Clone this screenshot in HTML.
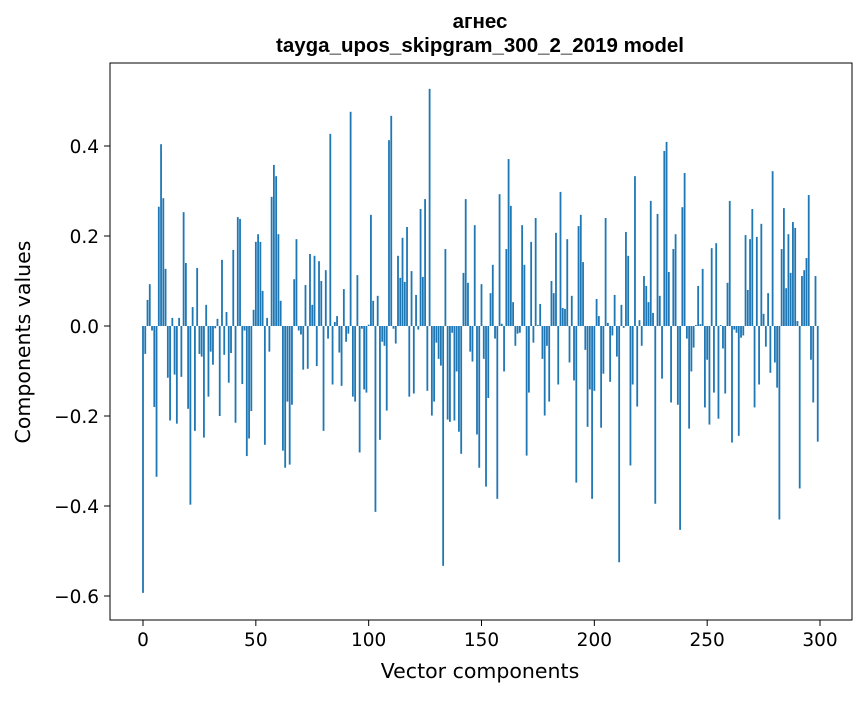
<!DOCTYPE html>
<html><head><meta charset="utf-8"><style>
body{margin:0;background:#fff}
svg text{font-family:"DejaVu Sans","Liberation Sans",sans-serif;fill:#000}
svg text.title{font-family:"Liberation Sans","DejaVu Sans",sans-serif}
</style></head><body>
<svg id="chart" width="867" height="696" xmlns="http://www.w3.org/2000/svg">
<text class="title" x="480" y="28" text-anchor="middle" font-size="20.5" font-weight="bold">агнес</text>
<text class="title" x="480" y="52" text-anchor="middle" font-size="20.5" font-weight="bold">tayga_upos_skipgram_300_2_2019 model</text>
<g id="bars"></g>
<g id="axes"></g>
<rect x="110" y="63" width="742" height="557" fill="none" stroke="#000" stroke-width="1"/>
<text x="480" y="678" text-anchor="middle" font-size="20.5">Vector components</text>
<text transform="translate(30,342) rotate(-90)" text-anchor="middle" font-size="20.5">Components values</text>
</svg>
<script>
const values = [
-0.593,-0.062,0.058,0.093,-0.01,-0.18,-0.335,0.265,0.404,0.284,
0.127,-0.115,-0.21,0.018,-0.108,-0.217,0.018,-0.113,0.253,0.14,
-0.184,-0.397,0.042,-0.233,0.129,-0.062,-0.068,-0.248,0.047,-0.157,
-0.057,-0.086,-0.005,0.016,-0.2,0.147,-0.064,0.031,-0.126,-0.06,
0.169,-0.215,0.242,0.238,-0.129,-0.01,-0.289,-0.25,-0.189,0.036,
0.187,0.204,0.187,0.078,-0.264,0.018,-0.057,0.287,0.358,0.333,
0.204,0.056,-0.277,-0.315,-0.168,-0.308,-0.175,0.104,0.193,-0.01,
-0.019,-0.097,0.091,-0.095,0.16,0.047,
0.156,-0.089,0.144,0.1,-0.233,0.124,-0.028,0.427,-0.13,0.009,
0.022,-0.059,-0.133,0.082,-0.035,-0.017,0.476,-0.157,-0.168,0.113,
-0.281,-0.006,-0.141,-0.148,0.003,0.247,0.056,-0.413,0.067,-0.253,
-0.035,-0.044,-0.188,0.413,0.467,-0.006,-0.039,0.156,0.107,0.196,
0.098,0.22,-0.157,0.122,-0.15,0.069,-0.008,0.26,0.109,0.282,
-0.144,0.527,-0.199,-0.168,-0.037,-0.073,-0.088,-0.533,0.171,-0.208,
-0.213,-0.015,-0.21,-0.101,-0.235,-0.284,0.118,0.282,0.096,-0.057,
-0.079,0.224,-0.241,-0.315,0.093,
-0.073,-0.357,-0.16,0.073,0.136,-0.028,-0.384,0.293,0.005,-0.101,
0.171,0.371,0.267,0.053,-0.044,-0.017,-0.015,0.224,0.136,-0.288,
-0.148,0.187,-0.037,0.24,0.002,0.049,-0.073,-0.199,-0.044,-0.168,
0.1,0.073,0.207,-0.13,0.298,0.04,0.038,0.193,-0.081,0.067,
-0.121,-0.348,0.222,0.247,0.142,-0.053,-0.224,-0.141,-0.384,-0.144,
0.06,0.022,-0.226,-0.106,0.24,0.007,-0.124,-0.021,0.069,-0.068,
-0.525,0.047,-0.004,0.209,0.156,-0.31,-0.13,0.333,-0.179,0.013,
-0.044,0.111,0.089,0.053,0.278,0.029,
-0.395,0.249,0.067,-0.117,0.389,0.409,0.12,-0.17,0.171,0.204,
-0.175,-0.453,0.264,0.34,-0.028,-0.228,-0.101,-0.048,0.002,0.089,
0.004,0.127,-0.181,-0.075,-0.219,0.173,-0.148,0.184,-0.206,0.002,
-0.05,-0.15,0.096,0.278,-0.259,-0.008,-0.015,-0.244,-0.026,-0.021,
0.202,0.08,0.193,0.26,-0.181,0.198,-0.13,0.227,0.027,-0.046,
0.073,-0.104,0.344,-0.081,-0.137,-0.43,0.171,0.262,0.084,0.204,
0.118,0.231,0.218,0.011,-0.361,0.111,0.124,0.151,0.291,-0.075,
-0.17,0.111,-0.257
];
const xTicks = [0,50,100,150,200,250,300];
const yTicks = [0.4,0.2,0.0,-0.2,-0.4,-0.6];
const yTickLabels = ["0.4","0.2","0.0","\u22120.2","\u22120.4","\u22120.6"];

const NS = "http://www.w3.org/2000/svg";
function xScale(v){ return 143 + v*2.2567; }
function yScale(v){ return 326 - v*450; }

const barsG = document.getElementById('bars');
values.forEach(function(v,i){
  const r = document.createElementNS(NS,'rect');
  const y0 = yScale(0), y1 = yScale(v);
  r.setAttribute('x', xScale(i) - 0.9);
  r.setAttribute('width', 1.8);
  r.setAttribute('y', Math.min(y0,y1));
  r.setAttribute('height', Math.abs(y1-y0));
  r.setAttribute('fill', '#1f77b4');
  
  
  barsG.appendChild(r);
});

const axesG = document.getElementById('axes');
xTicks.forEach(function(t){
  const x = xScale(t);
  const l = document.createElementNS(NS,'line');
  l.setAttribute('x1',x); l.setAttribute('x2',x);
  l.setAttribute('y1',620); l.setAttribute('y2',626);
  l.setAttribute('stroke','#000');
  
  
  axesG.appendChild(l);
  const tx = document.createElementNS(NS,'text');
  tx.setAttribute('x',x); tx.setAttribute('y',646);
  tx.setAttribute('text-anchor','middle'); tx.setAttribute('font-size','18.5');
  tx.textContent = String(t);
  
  
  axesG.appendChild(tx);
});
yTicks.forEach(function(t,i){
  const y = yScale(t);
  const l = document.createElementNS(NS,'line');
  l.setAttribute('x1',104); l.setAttribute('x2',110);
  l.setAttribute('y1',y); l.setAttribute('y2',y);
  l.setAttribute('stroke','#000');
  
  
  axesG.appendChild(l);
  const tx = document.createElementNS(NS,'text');
  tx.setAttribute('x',99); tx.setAttribute('y',y+7);
  tx.setAttribute('text-anchor','end'); tx.setAttribute('font-size','18.5');
  tx.textContent = yTickLabels[i];
  
  
  axesG.appendChild(tx);
});
</script>
</body></html>
